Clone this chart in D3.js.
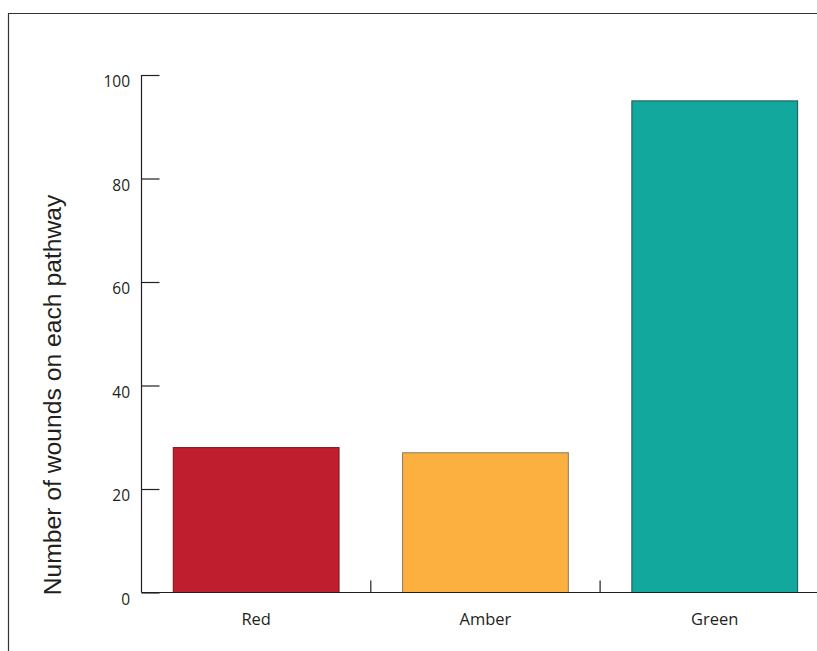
<!DOCTYPE html>
<html>
<head>
<meta charset="utf-8">
<script src="https://cdn.jsdelivr.net/npm/d3@7"></script>
<style>
  html, body { margin: 0; padding: 0; background: #fff; }
  svg { display: block; }
</style>
</head>
<body>
<svg id="chart" width="817" height="651"></svg>
<script>
const categories = ["Red", "Amber", "Green"];
const values = [28, 27, 95];
const barColors = ["#be1e2d", "#fbb040", "#13a89e"];
const barStrokes = ["#7a1219", "#8a7a60", "#1d5550"];
const yTicks = [0, 20, 40, 60, 80, 100];
const yTitle = "Number of wounds on each pathway";

const svg = d3.select("#chart");
const W = 817, H = 651;

// frame
svg.append("path")
  .attr("d", `M8.5,${H} V13.5 H${W}`)
  .attr("fill", "none").attr("stroke", "#333").attr("stroke-width", 1.2);

const x0 = 141.5, baseY = 592.5, topY = 75;
const band = 229.3;

const x = d3.scaleBand().domain(categories)
  .range([x0, x0 + band * categories.length])
  .paddingInner(0.277).paddingOuter(0.1385);
const y = d3.scaleLinear().domain([0, 100]).range([baseY, topY]);

// bars
svg.selectAll("rect.bar").data(categories).enter().append("rect")
  .attr("class", "bar")
  .attr("x", d => x(d))
  .attr("y", (d, i) => y(values[i]))
  .attr("width", x.bandwidth())
  .attr("height", (d, i) => baseY - y(values[i]))
  .attr("fill", (d, i) => barColors[i])
  .attr("stroke", (d, i) => barStrokes[i])
  .attr("stroke-width", 1);

// y axis
const yAxis = d3.axisRight(y).tickValues(yTicks).tickSize(18).tickFormat("");
const gy = svg.append("g").attr("transform", `translate(${x0},0)`).call(yAxis);
gy.select(".domain").remove();
gy.selectAll("line").attr("stroke", "#231f20").attr("stroke-width", 1.2);
svg.append("line").attr("x1", x0).attr("x2", x0).attr("y1", topY).attr("y2", baseY)
  .attr("stroke", "#231f20").attr("stroke-width", 1.2);

svg.selectAll("text.ytick").data(yTicks).enter().append("text")
  .attr("class", "ytick")
  .attr("x", 130).attr("y", d => y(d) + 12)
  .attr("text-anchor", "end")
  .attr("font-family", "'Open Sans', sans-serif")
  .attr("font-size", 15.5).attr("fill", "#231f20")
  .text(d => d);

// x axis baseline
svg.append("line").attr("x1", x0).attr("x2", W).attr("y1", baseY).attr("y2", baseY)
  .attr("stroke", "#231f20").attr("stroke-width", 1.2);
// band boundary ticks (inward)
const bounds = categories.slice(1).map(c => x(c) - x.step() * x.paddingInner() / 2);
svg.selectAll("line.xtick").data(bounds).enter().append("line")
  .attr("class", "xtick")
  .attr("x1", d => d).attr("x2", d => d)
  .attr("y1", baseY).attr("y2", baseY - 12)
  .attr("stroke", "#231f20").attr("stroke-width", 1.2);

svg.selectAll("text.xlab").data(categories).enter().append("text")
  .attr("class", "xlab")
  .attr("x", d => x(d) + x.bandwidth() / 2)
  .attr("y", 625)
  .attr("text-anchor", "middle")
  .attr("font-family", "'Open Sans', sans-serif")
  .attr("font-size", 16.5).attr("fill", "#231f20")
  .text(d => d);

// y title
svg.append("text")
  .attr("transform", `translate(61,395) rotate(-90)`)
  .attr("text-anchor", "middle")
  .attr("font-family", "'Liberation Sans', Arial, sans-serif")
  .attr("font-size", 24.7).attr("fill", "#231f20")
  .text(yTitle);
</script>
</body>
</html>
